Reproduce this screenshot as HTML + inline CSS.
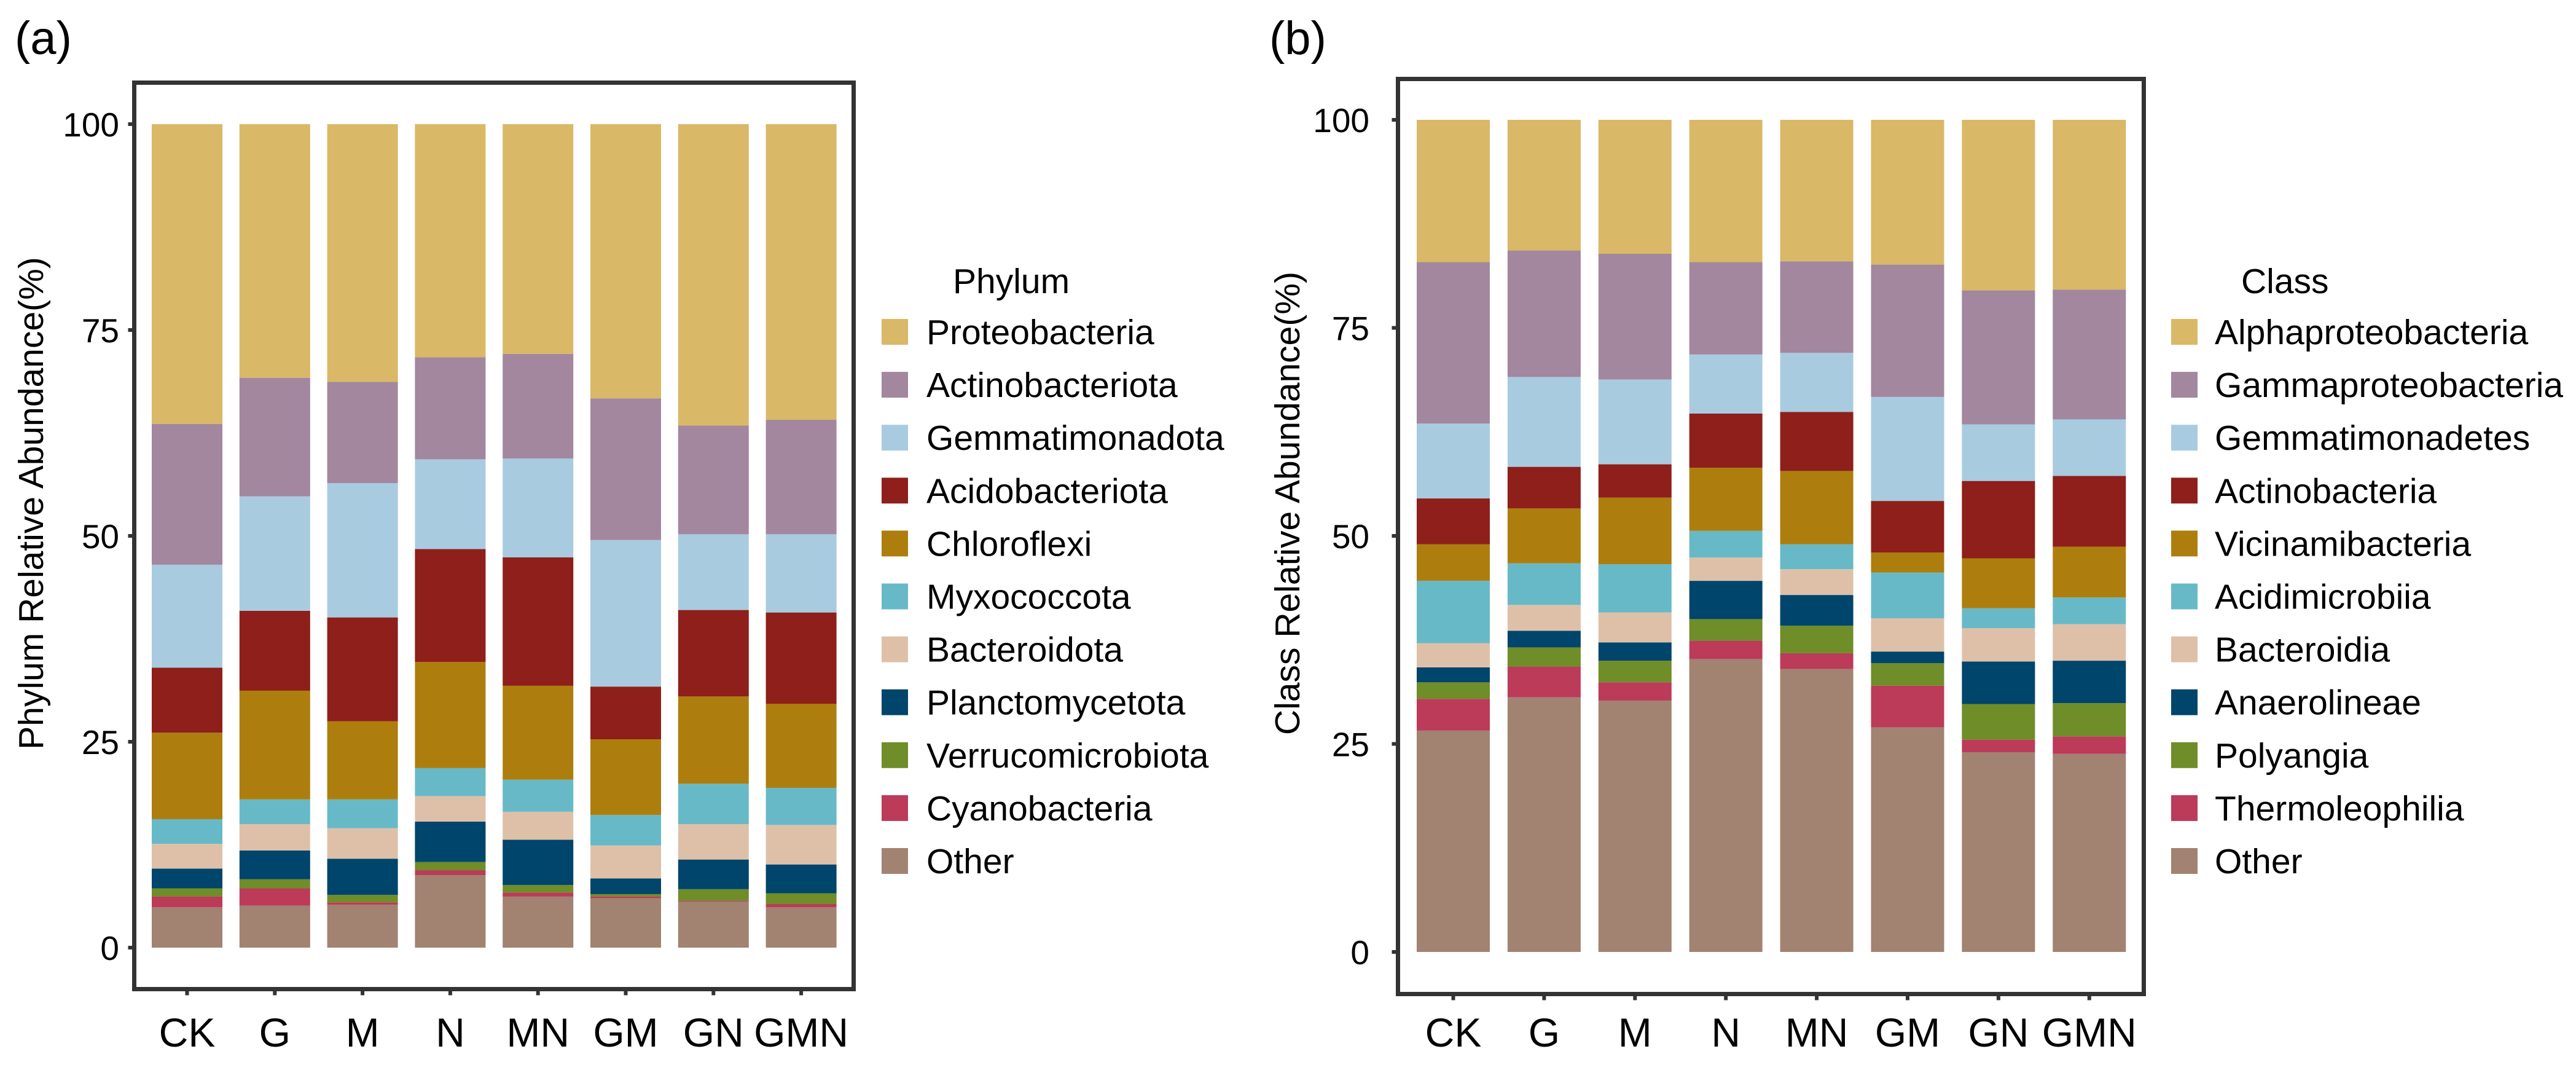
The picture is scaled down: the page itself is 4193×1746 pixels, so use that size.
<!DOCTYPE html>
<html><head><meta charset="utf-8"><style>
html,body{margin:0;padding:0;background:#fff;}
svg{display:block;font-family:"Liberation Sans",Arial,sans-serif;}
</style></head><body>
<svg id="fig" width="4193" height="1746" viewBox="0 0 4193 1746" xmlns="http://www.w3.org/2000/svg">
<rect width="4193" height="1746" fill="#fff"/>
<g id="pa"></g>
<g id="pb"></g>
</svg>
<script>
const categories = ["CK","G","M","N","MN","GM","GN","GMN"];
const ticks = [0,25,50,75,100];
const colors = ["#A28271","#BB3B59","#6F8D28","#00456B","#DEC0A8","#68B9C7","#AD7E0E","#8E1F1A","#A8CBE0","#A2879F","#D9B867"];

// Panel (a) phylum values, bottom to top
const phylumNames = ["Other","Cyanobacteria","Verrucomicrobiota","Planctomycetota","Bacteroidota","Myxococcota","Chloroflexi","Acidobacteriota","Gemmatimonadota","Actinobacteriota","Proteobacteria"];
const pOther   = [4.9,5.1,5.2,8.8,6.2,6.0,5.6,4.9];
const pCyano   = [1.3,2.1,0.3,0.6,0.5,0.2,0.1,0.4];
const pVerruco = [1.0,1.1,0.9,1.0,0.9,0.3,1.4,1.3];
const pPlancto = [2.4,3.5,4.4,4.9,5.5,1.9,3.6,3.5];
const pBactero = [3.0,3.2,3.7,3.1,3.4,4.0,4.3,4.8];
const pMyxo    = [3.0,3.0,3.5,3.4,3.9,3.7,4.9,4.5];
const pChloro  = [10.5,13.2,9.5,12.9,11.4,9.2,10.6,10.2];
const pAcido   = [7.9,9.7,12.6,13.7,15.6,6.4,10.5,11.1];
const pGemma   = [12.5,13.9,16.3,10.9,12.0,17.8,9.2,9.5];
const pActino  = [17.1,14.4,12.3,12.4,12.7,17.2,13.2,13.9];
const pProteo  = [36.4,30.8,31.3,28.3,27.9,33.3,36.6,35.9];
const phylumSeries = [pOther,pCyano,pVerruco,pPlancto,pBactero,pMyxo,pChloro,pAcido,pGemma,pActino,pProteo];

// Panel (b) class values, bottom to top
const classNames = ["Other","Thermoleophilia","Polyangia","Anaerolineae","Bacteroidia","Acidimicrobiia","Vicinamibacteria","Actinobacteria","Gemmatimonadetes","Gammaproteobacteria","Alphaproteobacteria"];
const cOther   = [26.6,30.6,30.2,35.2,34.0,27.0,24.0,23.8];
const cThermo  = [3.8,3.7,2.2,2.2,1.9,5.0,1.5,2.1];
const cPoly    = [2.0,2.3,2.6,2.6,3.3,2.7,4.3,4.0];
const cAnaero  = [1.8,2.0,2.2,4.6,3.7,1.4,5.1,5.1];
const cBactero = [2.9,3.1,3.6,2.8,3.1,4.0,4.0,4.4];
const cAcidim  = [7.5,5.0,5.8,3.2,3.0,5.5,2.4,3.2];
const cVicin   = [4.4,6.6,8.0,7.6,8.8,2.4,6.0,6.1];
const cActinob = [5.5,5.0,4.0,6.5,7.1,6.2,9.3,8.5];
const cGemma   = [9.0,10.8,10.2,7.1,7.1,12.5,6.8,6.8];
const cGamma   = [19.4,15.2,15.1,11.1,11.0,15.9,16.1,15.6];
const cAlpha   = [17.1,15.7,16.1,17.1,17.0,17.4,20.5,20.4];
const classSeries = [cOther,cThermo,cPoly,cAnaero,cBactero,cAcidim,cVicin,cActinob,cGemma,cGamma,cAlpha];

const NS="http://www.w3.org/2000/svg";
function mk(tag, attrs, parent){
  const e=document.createElementNS(NS,tag);
  for(const k in attrs) e.setAttribute(k,attrs[k]);
  parent.appendChild(e); return e;
}

function panel(g, cfg){
  const y = v => cfg.y0 + (cfg.y100-cfg.y0)*v/100;
  const x = i => cfg.bx0 + i*cfg.pitch;
  // panel letter
  const lt = mk('text',{x:cfg.letterX,y:88,'font-size':76,fill:'#000'},g);
  lt.textContent=cfg.letter;
  
  
  // bars
  const totals = categories.map(()=>0);
  cfg.series.forEach((vals,si)=>{
    vals.forEach((v,ci)=>{
      const top = totals[ci]+v;
      const r = mk('rect',{x:x(ci),y:y(top),width:cfg.bw,height:y(totals[ci])-y(top),fill:colors[si]},g);
      
      
      totals[ci]=top;
    });
  });
  // frame
  const fr = mk('rect',{x:cfg.fx,y:cfg.fy,width:cfg.fw,height:cfg.fh,fill:'none',stroke:'#333',"stroke-width":7},g);
  
  
  // y ticks
  ticks.forEach(t=>{
    mk('line',{x1:cfg.fx-10,x2:cfg.fx,y1:y(t),y2:y(t),stroke:'#333','stroke-width':6},g);
    const tl = mk('text',{x:cfg.tickRight,y:y(t)+20,'font-size':55,'text-anchor':'end',fill:'#000'},g);
    tl.textContent=t;
    
    
  });
  // x ticks
  categories.forEach((c,i)=>{
    const cx = x(i)+cfg.bw/2;
    mk('line',{x1:cx,x2:cx,y1:cfg.fy+cfg.fh,y2:cfg.fy+cfg.fh+10,stroke:'#333','stroke-width':6},g);
    const xl = mk('text',{x:cx,y:1703,'font-size':66,'text-anchor':'middle',fill:'#000'},g);
    xl.textContent=c;
    
    
  });
  // y title
  const yt = mk('text',{x:cfg.titleX,y:819,'font-size':57,'text-anchor':'middle',transform:`rotate(-90 ${cfg.titleX} 819)`,'dominant-baseline':'central',fill:'#000'},g);
  yt.textContent=cfg.ytitle;
  
  
  // legend
  const lgT = mk('text',{x:cfg.legTitleX,y:477,'font-size':57,fill:'#000'},g);
  lgT.textContent=cfg.legTitle;
  
  
  for(let k=0;k<11;k++){
    const si = 10-k;
    const cy = 540 + k*86.1;
    const sw = mk('rect',{x:cfg.swX,y:cy-21,width:43,height:42,fill:colors[si]},g);
    
    
    const lt2 = mk('text',{x:cfg.legTextX,y:cy+20,'font-size':57,fill:'#000'},g);
    lt2.textContent=cfg.names[si];
    
    
  }
}

panel(document.getElementById('pa'),{
  letter:'(a)',letterX:24,series:phylumSeries,names:phylumNames,
  y0:1542,y100:202,bx0:247,pitch:142.8,bw:115,
  fx:218.5,fy:134.5,fw:1171,fh:1475,tickRight:194,titleX:51,
  ytitle:'Phylum Relative Abundance(%)',legTitle:'Phylum',legTitleX:1551,swX:1435,legTextX:1508
});
panel(document.getElementById('pb'),{
  letter:'(b)',letterX:2066,series:classSeries,names:classNames,
  y0:1549,y100:195,bx0:2306,pitch:147.9,bw:119,
  fx:2275.5,fy:128.5,fw:1214,fh:1489,tickRight:2229,titleX:2096,
  ytitle:'Class Relative Abundance(%)',legTitle:'Class',legTitleX:3648,swX:3534,legTextX:3605
});
</script>
</body></html>
